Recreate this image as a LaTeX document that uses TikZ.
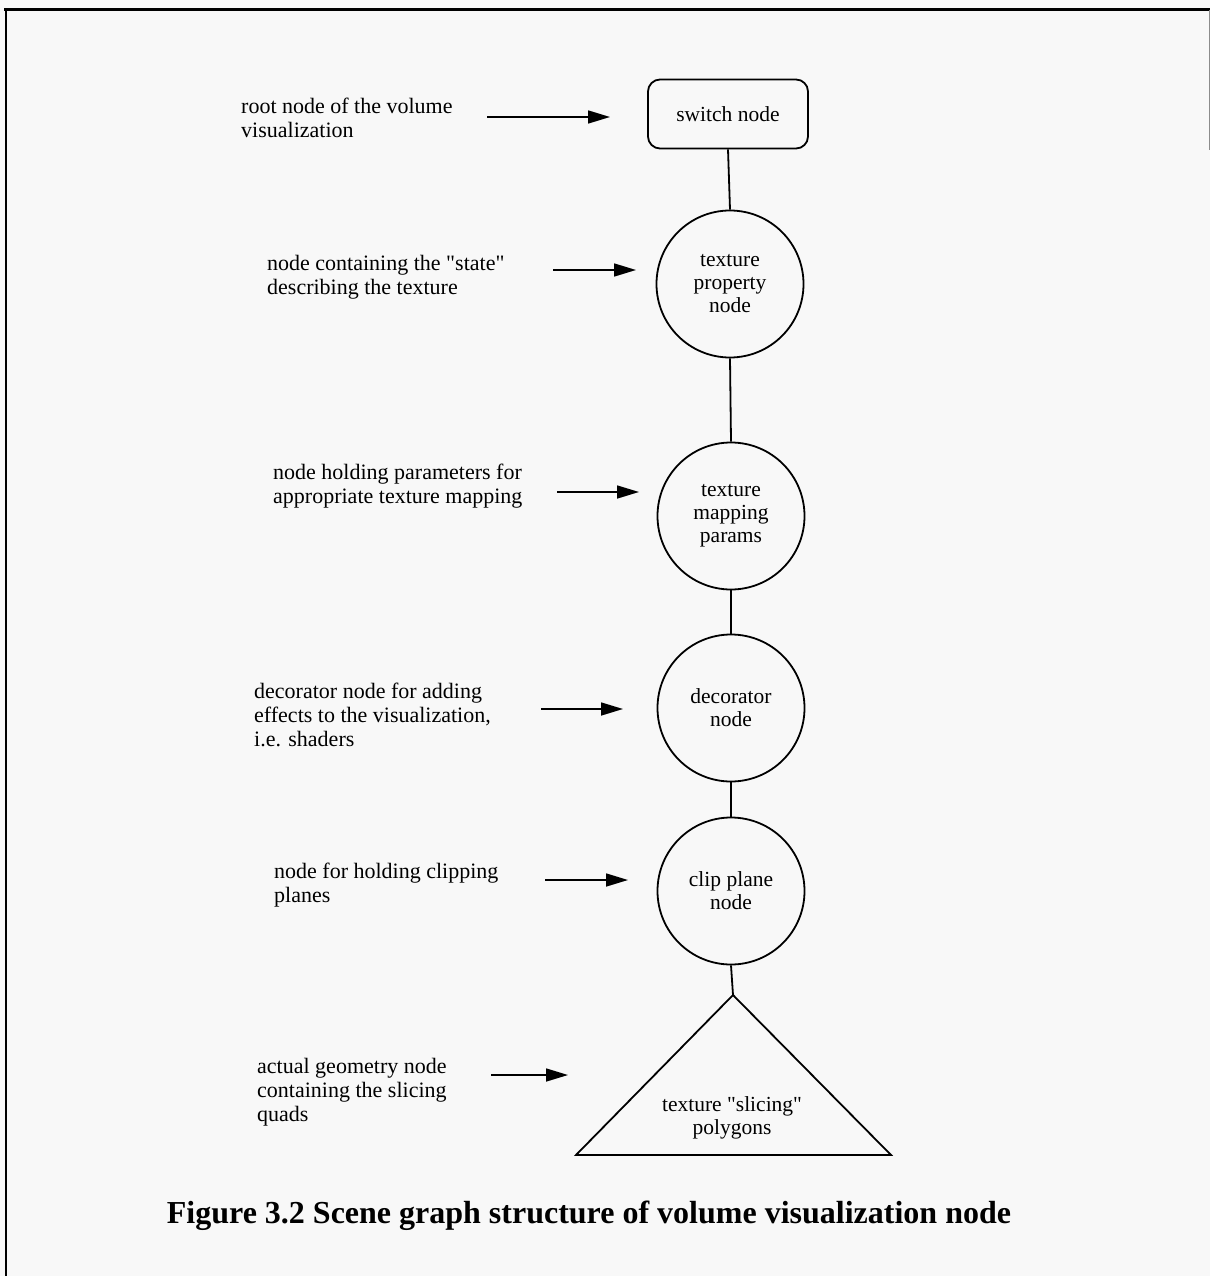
\documentclass[tikz,border=0pt]{standalone}
\usepackage{fontspec}
\setmainfont{Liberation Serif}
\usetikzlibrary{arrows.meta}
\definecolor{paper}{RGB}{248,248,248}
\newcommand{\dq}{\textquotedbl}
\tikzset{
  note/.style={anchor=west, align=left, inner sep=0pt, font=\fontsize{22}{24}\selectfont},
  graphnode/.style={draw, line width=1.8pt, align=center, font=\fontsize{21.5}{23}\selectfont},
  ball/.style={graphnode, circle, minimum size=147pt, inner sep=0pt},
  link/.style={line width=1.8pt},
  pointer/.style={line width=1.6pt, -{Triangle[length=22pt,width=13pt]}}
}
\begin{document}
\begin{tikzpicture}[x=1pt,y=-1pt]
  % page and frame
  \fill[paper] (0,0) rectangle (1210,1276);
  \useasboundingbox (0,0) rectangle (1210,1276);
  \draw[line width=3pt] (4,10) -- (1210,10);
  \draw[line width=2.2pt] (6,10) -- (6,1276);
  \draw[line width=0.8pt, black!45] (1209,10) -- (1209,150);

  % scene graph nodes
  \node[graphnode, rounded corners=12pt, minimum width=160pt, minimum height=69pt] (sw) at (728,114) {switch node};
  \node[ball] (tp) at (730,284) {texture\\property\\node};
  \node[ball] (tm) at (731,516) {texture\\mapping\\params};
  \node[ball] (dec) at (731,708) {decorator\\node};
  \node[ball] (clip) at (731,891) {clip plane\\node};
  \coordinate (apex) at (733,995);
  \coordinate (bl) at (576,1155);
  \coordinate (br) at (891,1155);
  \draw[line width=1.8pt, line join=miter] (apex) -- (bl) -- (br) -- cycle;
  \node[align=center, font=\fontsize{21.5}{23}\selectfont] (geo) at (732,1118) {texture \dq slicing\dq\\polygons};

  % hierarchy links
  \draw[link] (sw.south) -- (tp.north);
  \draw[link] (tp.south) -- (tm.north);
  \draw[link] (tm.south) -- (dec.north);
  \draw[link] (dec.south) -- (clip.north);
  \draw[link] (clip.south) -- (apex);

  % descriptions
  \node[note] (n1) at (241,118) {root node of the volume\\visualization};
  \node[note] (n2) at (267,277) {node containing the \dq state\dq\\describing the texture};
  \node[note] (n3) at (273,486) {node holding parameters for\\appropriate texture mapping};
  \node[note] (n4) at (254,715) {decorator node for adding\\effects to the visualization,\\i.e. shaders};
  \node[note] (n5) at (274,885) {node for holding clipping\\planes};
  \node[note] (n6) at (257,1092) {actual geometry node\\containing the slicing\\quads};

  % arrows from descriptions to nodes
  \coordinate (a1s) at (487,117); \coordinate (a1e) at (610,117);
  \coordinate (a2s) at (553,270); \coordinate (a2e) at (636,270);
  \coordinate (a3s) at (557,492); \coordinate (a3e) at (639,492);
  \coordinate (a4s) at (541,709); \coordinate (a4e) at (623,709);
  \coordinate (a5s) at (545,880); \coordinate (a5e) at (628,880);
  \coordinate (a6s) at (491,1075); \coordinate (a6e) at (568,1075);
  \draw[pointer] (a1s) -- (a1e);
  \draw[pointer] (a2s) -- (a2e);
  \draw[pointer] (a3s) -- (a3e);
  \draw[pointer] (a4s) -- (a4e);
  \draw[pointer] (a5s) -- (a5e);
  \draw[pointer] (a6s) -- (a6e);

  % caption
  \node[font=\bfseries\fontsize{32}{34}\selectfont, inner sep=0pt] (cap) at (589,1216)
    {Figure 3.2 Scene graph structure of volume visualization node};
\end{tikzpicture}
\end{document}
